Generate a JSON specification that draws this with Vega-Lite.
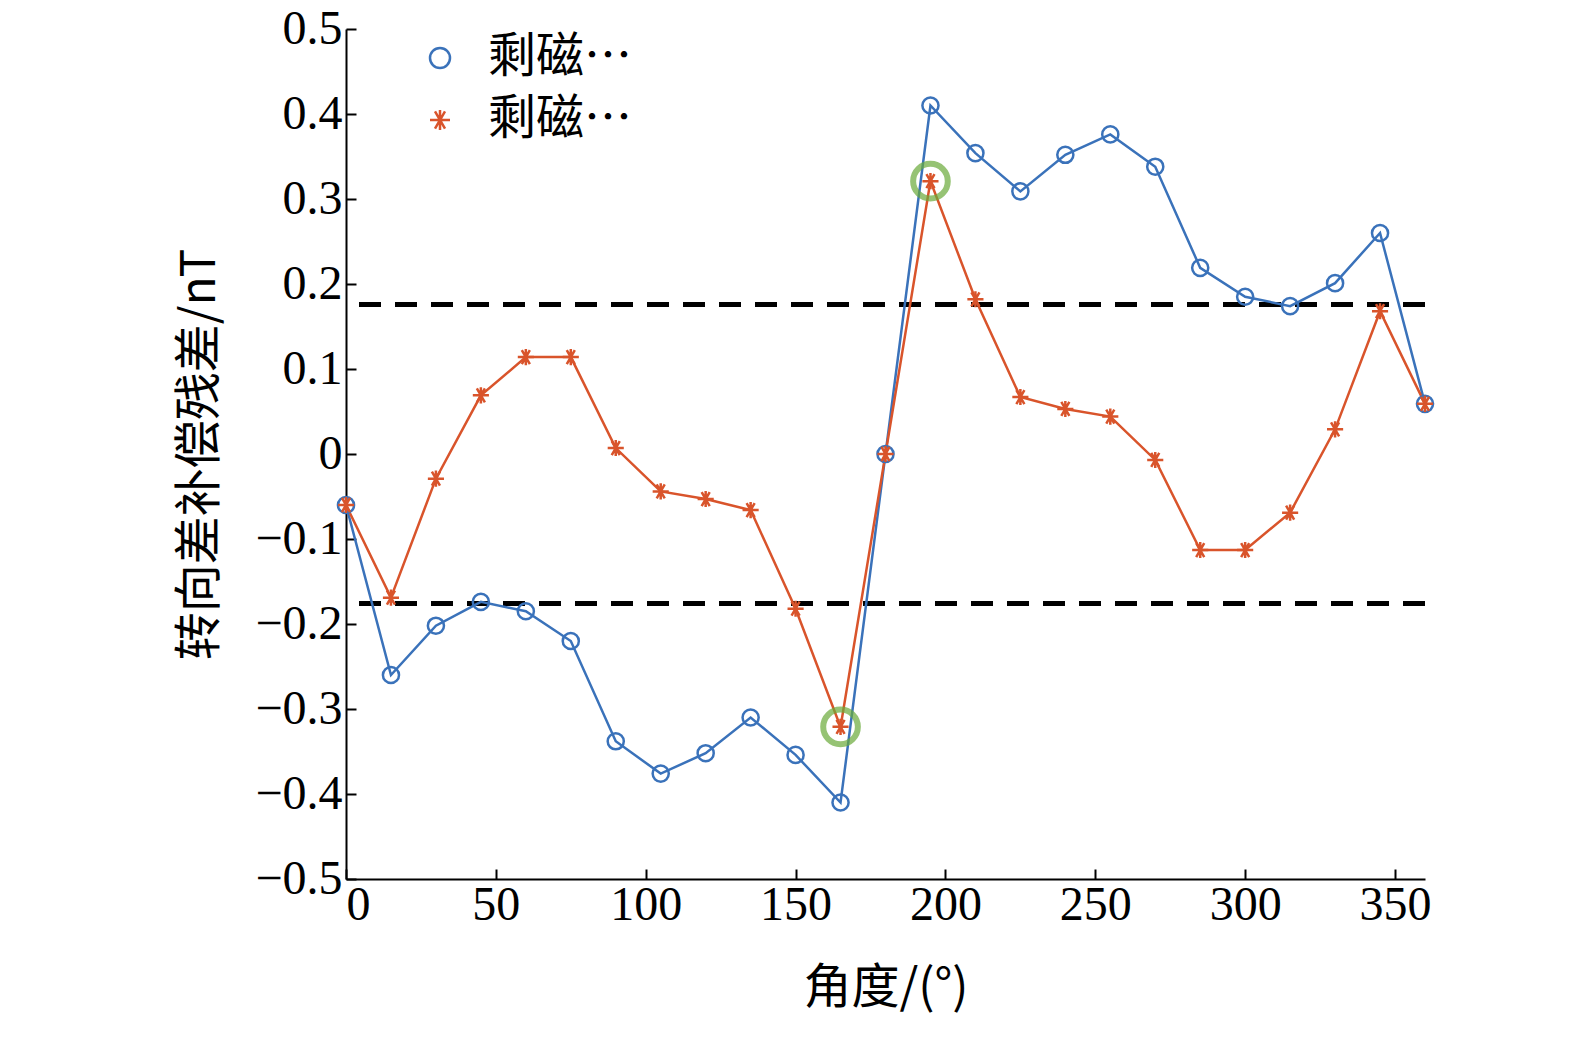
{
  "$schema": "https://vega.github.io/schema/vega-lite/v6.json",
  "autosize": "none",
  "padding": {"left": 346, "top": 29, "right": 150, "bottom": 165},
  "width": 1079,
  "height": 850,
  "background": "white",
  "config": {
    "view": {"stroke": null},
    "font": "Liberation Serif, Noto Sans CJK SC",
    "axis": {
      "domainColor": "black", "domainWidth": 2, "tickColor": "black", "tickWidth": 2,
      "tickSize": -10, "grid": false, "labelFont": "Liberation Serif", "labelFontSize": 48,
      "labelColor": "black", "titleFont": "Noto Sans CJK SC", "titleFontSize": 48,
      "titleFontWeight": "normal", "titleColor": "black"
    },
    "legend": {
      "orient": "none", "legendX": 70, "legendY": 5, "title": null,
      "labelFont": "Noto Sans CJK SC", "labelFontSize": 48, "labelColor": "black",
      "symbolSize": 400, "symbolStrokeWidth": 2.5, "rowPadding": 14, "labelOffset": 24
    }
  },
  "datasets": {
    "series": [
      {"angle": 0, "v": -0.06, "s": "剩磁补偿前"},
      {"angle": 15, "v": -0.26, "s": "剩磁补偿前"},
      {"angle": 30, "v": -0.202, "s": "剩磁补偿前"},
      {"angle": 45, "v": -0.174, "s": "剩磁补偿前"},
      {"angle": 60, "v": -0.185, "s": "剩磁补偿前"},
      {"angle": 75, "v": -0.22, "s": "剩磁补偿前"},
      {"angle": 90, "v": -0.338, "s": "剩磁补偿前"},
      {"angle": 105, "v": -0.376, "s": "剩磁补偿前"},
      {"angle": 120, "v": -0.352, "s": "剩磁补偿前"},
      {"angle": 135, "v": -0.31, "s": "剩磁补偿前"},
      {"angle": 150, "v": -0.354, "s": "剩磁补偿前"},
      {"angle": 165, "v": -0.41, "s": "剩磁补偿前"},
      {"angle": 180, "v": 0, "s": "剩磁补偿前"},
      {"angle": 195, "v": 0.41, "s": "剩磁补偿前"},
      {"angle": 210, "v": 0.354, "s": "剩磁补偿前"},
      {"angle": 225, "v": 0.309, "s": "剩磁补偿前"},
      {"angle": 240, "v": 0.352, "s": "剩磁补偿前"},
      {"angle": 255, "v": 0.376, "s": "剩磁补偿前"},
      {"angle": 270, "v": 0.338, "s": "剩磁补偿前"},
      {"angle": 285, "v": 0.219, "s": "剩磁补偿前"},
      {"angle": 300, "v": 0.185, "s": "剩磁补偿前"},
      {"angle": 315, "v": 0.174, "s": "剩磁补偿前"},
      {"angle": 330, "v": 0.201, "s": "剩磁补偿前"},
      {"angle": 345, "v": 0.26, "s": "剩磁补偿前"},
      {"angle": 360, "v": 0.059, "s": "剩磁补偿前"},
      {"angle": 0, "v": -0.06, "s": "剩磁补偿后"},
      {"angle": 15, "v": -0.169, "s": "剩磁补偿后"},
      {"angle": 30, "v": -0.029, "s": "剩磁补偿后"},
      {"angle": 45, "v": 0.069, "s": "剩磁补偿后"},
      {"angle": 60, "v": 0.114, "s": "剩磁补偿后"},
      {"angle": 75, "v": 0.114, "s": "剩磁补偿后"},
      {"angle": 90, "v": 0.007, "s": "剩磁补偿后"},
      {"angle": 105, "v": -0.044, "s": "剩磁补偿后"},
      {"angle": 120, "v": -0.053, "s": "剩磁补偿后"},
      {"angle": 135, "v": -0.066, "s": "剩磁补偿后"},
      {"angle": 150, "v": -0.182, "s": "剩磁补偿后"},
      {"angle": 165, "v": -0.321, "s": "剩磁补偿后"},
      {"angle": 180, "v": 0, "s": "剩磁补偿后"},
      {"angle": 195, "v": 0.321, "s": "剩磁补偿后"},
      {"angle": 210, "v": 0.182, "s": "剩磁补偿后"},
      {"angle": 225, "v": 0.067, "s": "剩磁补偿后"},
      {"angle": 240, "v": 0.053, "s": "剩磁补偿后"},
      {"angle": 255, "v": 0.044, "s": "剩磁补偿后"},
      {"angle": 270, "v": -0.007, "s": "剩磁补偿后"},
      {"angle": 285, "v": -0.113, "s": "剩磁补偿后"},
      {"angle": 300, "v": -0.113, "s": "剩磁补偿后"},
      {"angle": 315, "v": -0.069, "s": "剩磁补偿后"},
      {"angle": 330, "v": 0.029, "s": "剩磁补偿后"},
      {"angle": 345, "v": 0.168, "s": "剩磁补偿后"},
      {"angle": 360, "v": 0.059, "s": "剩磁补偿后"}
    ],
    "limits": [{"v": 0.176}, {"v": -0.176}],
    "marks": [{"angle": 165, "v": -0.321}, {"angle": 195, "v": 0.321}]
  },
  "layer": [
    {
      "data": {"name": "limits"},
      "mark": {"type": "rule", "color": "black", "strokeWidth": 5, "strokeDash": [22, 14]},
      "encoding": {"y": {"field": "v", "type": "quantitative"}}
    },
    {
      "data": {"name": "series"},
      "mark": {"type": "line", "strokeWidth": 2.5},
      "encoding": {
        "x": {"field": "angle", "type": "quantitative", "title": "角度/(°)",
          "scale": {"domain": [0, 360], "nice": false},
          "axis": {"values": [0, 50, 100, 150, 200, 250, 300, 350], "titlePadding": 35, "labelPadding": 12}},
        "y": {"field": "v", "type": "quantitative", "title": "转向差补偿残差/nT",
          "scale": {"domain": [-0.5, 0.5], "nice": false},
          "axis": {"values": [-0.5, -0.4, -0.3, -0.2, -0.1, 0, 0.1, 0.2, 0.3, 0.4, 0.5], "format": ".1~f", "titlePadding": 30, "labelPadding": 14}},
        "color": {"field": "s", "type": "nominal",
          "scale": {"domain": ["剩磁补偿前", "剩磁补偿后"], "range": ["#3a72ba", "#d9542b"]}},
        "detail": {"field": "s"}
      }
    },
    {
      "data": {"name": "series"},
      "mark": {"type": "point", "filled": false, "fill": "white", "fillOpacity": 0, "strokeWidth": 2.5, "size": 260},
      "encoding": {
        "x": {"field": "angle", "type": "quantitative"},
        "y": {"field": "v", "type": "quantitative"},
        "color": {"field": "s", "type": "nominal",
          "scale": {"domain": ["剩磁补偿前", "剩磁补偿后"], "range": ["#3a72ba", "#d9542b"]}},
        "shape": {"field": "s", "type": "nominal",
          "scale": {"domain": ["剩磁补偿前", "剩磁补偿后"],
            "range": ["circle", "M-1,0L1,0M-0.5,-0.87L0.5,0.87M-0.5,0.87L0.5,-0.87M0,-1L0,1"]}}
      }
    },
    {
      "data": {"name": "marks"},
      "mark": {"type": "point", "filled": false, "color": "#6aab3a", "strokeWidth": 6, "size": 1200},
      "encoding": {
        "x": {"field": "angle", "type": "quantitative"},
        "y": {"field": "v", "type": "quantitative"}
      }
    }
  ]
}
